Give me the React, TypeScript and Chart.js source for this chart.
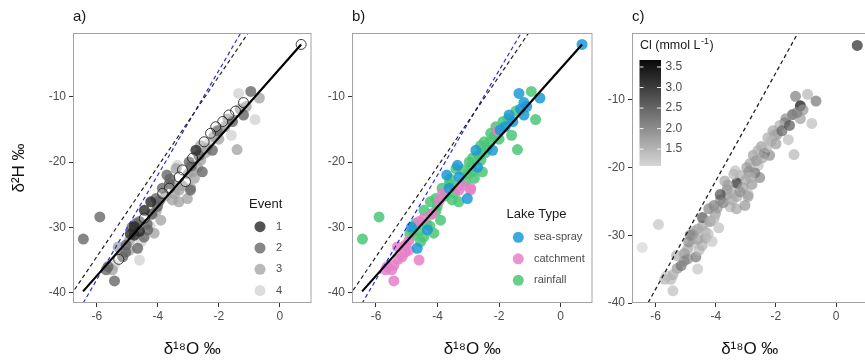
import React, { useEffect, useRef } from "react";
import { Chart, registerables } from "chart.js";

Chart.register(...registerables);

// ---------------- data ----------------
const d18O = [
  0.7, -1.35, -0.95, -0.67, -1.19, -1.1, -1.45, -1.19, -0.81, -1.67,
  -1.7, -1.87, -1.59, -1.4, -2.1, -1.96, -2.05, -2.27, -2.16, -2.48,
  -2.38, -2.21, -2.75, -2.6, -2.86, -2.59, -2.97, -2.54, -2.7, -3.19,
  -3.35, -3.3, -3.62, -3.62, -2.92, -3.3, -3.84, -3.09, -3.52, -2.8,
  -2.9,
  -5.9, -6.44, -5.42, -5.49, -5.63, -5.28, -4.6, -4.66, -5.04, -4.93,
  -4.77, -4.44, -4.71, -4.33, -4.12, -4.44, -4.17, -4.01, -3.52, -3.31,
  -3.03, -2.93, -3.85, -4.06, -4.23, -3.9, -4.55, -4.93, -5.15, -5.42,
  -5.69, -4.6, -4.77, -4.9, -4.85, -4.35, -3.7, -3.4,
  -4.2, -4.05, -3.95, -3.75, -3.45, -3.2, -2.85, -2.65, -2.45, -2.3,
  -2.0, -1.8, -1.55, -1.3, -4.45, -4.6, -4.25, -5.05, -5.3, -3.6,
  -3.0,
];
const d2H = [
  -2.0, -9.5, -9.2, -10.2, -10.9, -11.5, -12.2, -12.8, -13.5, -12.8,
  -13.4, -13.8, -15.9, -18.1, -14.6, -15.1, -15.2, -15.6, -16.1, -16.9,
  -17.9, -18.2, -18.2, -17.5, -19.4, -19.7, -20.0, -21.5, -20.8, -21.2,
  -20.5, -22.3, -23.3, -24.0, -24.0, -24.3, -24.8, -23.0, -23.5, -22.5,
  -20.6,
  -28.4, -31.8, -38.2, -36.5, -36.0, -34.9, -35.0, -33.2, -32.7, -32.0,
  -31.2, -28.6, -29.4, -30.4, -30.9, -27.4, -27.9, -26.8, -25.8, -26.1,
  -25.6, -24.3, -24.0, -25.6, -26.1, -28.9, -32.2, -33.5, -34.5, -35.8,
  -36.5, -29.1, -29.9, -31.0, -30.0, -29.5, -22.0, -21.0,
  -28.0, -27.5, -26.0, -25.2, -24.8, -23.6, -21.5, -19.0, -18.6, -17.0,
  -16.5, -14.6, -13.8, -11.9, -31.5, -30.6, -29.8, -33.8, -33.0, -22.6,
  -21.8,
];
// 0 = open circle (not in legend), 1..4 = event
const eventGroup = [
  0, 4, 2, 3, 0, 3, 0, 2, 4, 0,
  3, 0, 4, 3, 0, 3, 2, 0, 3, 0,
  3, 2, 1, 3, 0, 3, 2, 2, 3, 0,
  4, 0, 2, 0, 3, 3, 0, 0, 3, 3,
  2,
  2, 2, 2, 3, 2, 0, 4, 2, 2, 3,
  1, 0, 2, 2, 3, 1, 3, 2, 3, 3,
  3, 2, 2, 2, 1, 3, 4, 3, 2, 4,
  2, 2, 1, 1, 2, 2, 2, 3,
  2, 3, 2, 3, 3, 3, 3, 2, 3, 4,
  3, 3, 2, 3, 2, 1, 4, 2, 3, 2,
  3,
];
// index into lakeLabels
const lakeType = [
  0, 0, 2, 0, 0, 0, 2, 0, 2, 0,
  2, 2, 2, 2, 2, 0, 1, 2, 2, 2,
  2, 0, 0, 2, 2, 2, 2, 2, 0, 2,
  0, 0, 2, 0, 1, 1, 1, 2, 2, 2,
  2,
  2, 2, 1, 1, 1, 1, 1, 0, 1, 1,
  2, 1, 2, 0, 2, 2, 1, 2, 2, 2,
  0, 1, 2, 2, 2, 2, 2, 1, 1, 1,
  1, 1, 2, 2, 0, 2, 0, 2,
  2, 2, 1, 2, 2, 1, 2, 2, 2, 2,
  2, 0, 0, 0, 2, 2, 2, 1, 1, 2,
  2,
];
const chloride = [
  3.3, 2.2, 1.5, 2.3, 3.67, 1.9, 2.6, 1.8, 1.4, 2.0,
  2.2, 1.6, 1.4, 1.5, 1.7, 1.9, 1.7, 1.6, 1.5, 1.8,
  3.0, 2.0, 1.8, 1.6, 1.7, 1.4, 1.8, 2.1, 2.3, 1.6,
  1.4, 3.3, 2.1, 1.9, 1.5, 1.7, 2.0, 1.8, 1.6, 1.9,
  2.0,
  1.3, 1.09, 1.4, 1.5, 1.3, 1.9, 1.3, 2.3, 2.0, 1.7,
  1.4, 1.7, 1.6, 1.9, 1.3, 2.7, 1.7, 1.8, 1.5, 1.7,
  1.9, 1.8, 2.8, 2.2, 2.1, 1.4, 1.5, 2.0, 2.3, 1.6,
  1.5, 1.7, 1.9, 2.0, 2.1, 1.6, 1.7, 1.5,
  1.7, 1.5, 1.9, 2.1, 1.7, 2.0, 1.6, 1.9, 1.7, 1.5,
  1.8, 2.5, 2.7, 2.2, 1.6, 1.8, 1.4, 2.1, 1.6, 1.8,
  1.7,
];

const eventLabels = ["1", "2", "3", "4"];
const lakeLabels = ["sea-spray", "catchment", "rainfall"];
const xTicks = [-6, -4, -2, 0];
const yTicks = [-40, -30, -20, -10];
const clTicks = [1.5, 2.0, 2.5, 3.0, 3.5];

// reference lines: [slope, intercept]
const gmwl = [8, 10];
const lmwl = [6.9, 6.9];
const regression = [5.287, -5.7];
const regressionRange = [-6.45, 0.7];

// ---------------- styles ----------------
const FONT = "'Liberation Sans', Arial, Helvetica, sans-serif";
const eventColors = [
  "rgba(40,40,40,0.8)",
  "rgba(100,100,100,0.78)",
  "rgba(160,160,160,0.75)",
  "rgba(208,208,208,0.75)",
];
const lakeColors = [
  "rgba(27,154,214,0.85)",
  "rgba(230,128,200,0.85)",
  "rgba(76,199,120,0.85)",
];
const clMin = Math.min(...chloride);
const clMax = Math.max(...chloride);
function clGrey(v: number) {
  const t = Math.max(0, Math.min(1, (v - clMin) / (clMax - clMin)));
  return Math.round(214 - t * (214 - 8));
}

function linePts(coef: number[], x0: number, x1: number) {
  return [
    { x: x0, y: coef[0] * x0 + coef[1] },
    { x: x1, y: coef[0] * x1 + coef[1] },
  ];
}

function pts(filter: (i: number) => boolean) {
  const out: { x: number; y: number }[] = [];
  d18O.forEach((x, i) => {
    if (filter(i)) out.push({ x, y: d2H[i] });
  });
  return out;
}

function lineDs(data: any, color: string, width: number, dash: number[]) {
  return {
    type: "line",
    data,
    borderColor: color,
    borderWidth: width,
    borderDash: dash,
    pointRadius: 0,
    showLine: true,
    fill: false,
    tension: 0,
  };
}

function scatterDs(data: any, bg: any, extra: any = {}) {
  return {
    type: "scatter",
    data,
    backgroundColor: bg,
    borderColor: bg,
    borderWidth: 0,
    pointRadius: 5.5,
    pointHoverRadius: 5.5,
    ...extra,
  };
}

type Spec = {
  label: string;
  padTop: number;
  padRight: number;
  yAxisW: number;
  xAxisH: number;
  ymin: number;
  ymax: number;
  yTitle: boolean;
  datasets: any[];
  legend?: (ctx: CanvasRenderingContext2D) => void;
};

function buildChart(canvas: HTMLCanvasElement, spec: Spec) {
  const decor = {
    id: "decor" + spec.label,
    afterDraw(chart: any) {
      const { ctx, chartArea: a } = chart;
      ctx.save();
      ctx.strokeStyle = "#a3a3a3";
      ctx.lineWidth = 1;
      ctx.strokeRect(a.left + 0.5, a.top + 0.5, a.right - a.left - 1, a.bottom - a.top - 1);
      ctx.fillStyle = "#1a1a1a";
      ctx.font = `15px ${FONT}`;
      ctx.textBaseline = "middle";
      ctx.textAlign = "left";
      ctx.fillText(spec.label, a.left, 17);
      if (spec.legend) spec.legend(ctx);
      ctx.restore();
    },
  };
  return new Chart(canvas, {
    type: "scatter",
    data: { datasets: spec.datasets },
    plugins: [decor],
    options: {
      animation: false,
      responsive: false,
      events: [],
      layout: { padding: { top: spec.padTop, right: spec.padRight, left: 0, bottom: 0 } },
      plugins: {
        legend: { display: false },
        tooltip: { enabled: false },
        title: { display: false },
      },
      scales: {
        x: {
          type: "linear",
          min: -6.78,
          max: 1.04,
          afterBuildTicks: (s: any) => {
            s.ticks = xTicks.map((v) => ({ value: v }));
          },
          afterFit: (s: any) => {
            s.height = spec.xAxisH;
          },
          grid: {
            display: true,
            drawOnChartArea: false,
            drawTicks: true,
            tickLength: 4,
            color: "#333333",
            tickColor: "#333333",
          },
          border: { display: false },
          ticks: {
            font: { family: FONT, size: 12 },
            color: "#4d4d4d",
            padding: 2,
            maxRotation: 0,
            autoSkip: false,
          },
          title: {
            display: true,
            text: "δ¹⁸O ‰",
            font: { family: FONT, size: 17 },
            color: "#111111",
            padding: { top: 0, bottom: 0 },
          },
        },
        y: {
          type: "linear",
          min: spec.ymin,
          max: spec.ymax,
          afterBuildTicks: (s: any) => {
            s.ticks = yTicks.map((v) => ({ value: v }));
          },
          afterFit: (s: any) => {
            s.width = spec.yAxisW;
          },
          grid: {
            display: true,
            drawOnChartArea: false,
            drawTicks: true,
            tickLength: 4,
            color: "#333333",
            tickColor: "#333333",
          },
          border: { display: false },
          ticks: {
            font: { family: FONT, size: 12 },
            color: "#4d4d4d",
            padding: 3,
            autoSkip: false,
          },
          title: {
            display: spec.yTitle,
            text: "δ²H ‰",
            font: { family: FONT, size: 17 },
            color: "#111111",
            padding: { top: 9, bottom: 0 },
          },
        },
      },
    } as any,
  });
}

function eventLegend(ctx: CanvasRenderingContext2D) {
  ctx.textAlign = "left";
  ctx.textBaseline = "middle";
  ctx.font = `13px ${FONT}`;
  ctx.fillStyle = "#1a1a1a";
  ctx.fillText("Event", 249, 204);
  eventLabels.forEach((lab, i) => {
    const y = 226.7 + i * 21.3;
    ctx.beginPath();
    ctx.arc(260, y, 5.5, 0, Math.PI * 2);
    ctx.fillStyle = eventColors[i];
    ctx.fill();
    ctx.font = `11px ${FONT}`;
    ctx.fillStyle = "#4d4d4d";
    ctx.fillText(lab, 276, y);
  });
}

function lakeLegend(ctx: CanvasRenderingContext2D) {
  ctx.textAlign = "left";
  ctx.textBaseline = "middle";
  ctx.font = `13px ${FONT}`;
  ctx.fillStyle = "#1a1a1a";
  ctx.fillText("Lake Type", 188.5, 214.5);
  lakeLabels.forEach((lab, i) => {
    const y = 237.3 + i * 21.5;
    ctx.beginPath();
    ctx.arc(200.3, y, 5.5, 0, Math.PI * 2);
    ctx.fillStyle = lakeColors[i];
    ctx.fill();
    ctx.font = `11px ${FONT}`;
    ctx.fillStyle = "#4d4d4d";
    ctx.fillText(lab, 216, y);
  });
}

function clLegend(ctx: CanvasRenderingContext2D) {
  const x0 = 41.5;
  const x1 = 63;
  const yTop = 60;
  const yBot = 166;
  ctx.textAlign = "left";
  ctx.textBaseline = "middle";
  ctx.fillStyle = "#1a1a1a";
  ctx.font = `12.5px ${FONT}`;
  const t1 = "Cl (mmol L";
  ctx.fillText(t1, 42, 46);
  let x = 42 + ctx.measureText(t1).width + 0.5;
  ctx.font = `9px ${FONT}`;
  ctx.fillText("-1", x, 41.5);
  x += ctx.measureText("-1").width + 0.5;
  ctx.font = `12.5px ${FONT}`;
  ctx.fillText(")", x, 46);

  const g = ctx.createLinearGradient(0, yTop, 0, yBot);
  const hi = clGrey(clMax);
  const lo = clGrey(clMin);
  g.addColorStop(0, `rgb(${hi},${hi},${hi})`);
  g.addColorStop(1, `rgb(${lo},${lo},${lo})`);
  ctx.fillStyle = g;
  ctx.fillRect(x0, yTop, x1 - x0, yBot - yTop);

  ctx.font = `12px ${FONT}`;
  clTicks.forEach((v) => {
    const y = yBot - ((v - clMin) / (clMax - clMin)) * (yBot - yTop);
    ctx.strokeStyle = "rgba(255,255,255,0.9)";
    ctx.lineWidth = 1;
    ctx.beginPath();
    ctx.moveTo(x0, y);
    ctx.lineTo(x0 + 4, y);
    ctx.moveTo(x1 - 4, y);
    ctx.lineTo(x1, y);
    ctx.stroke();
    ctx.fillStyle = "#4d4d4d";
    ctx.fillText(v.toFixed(1), 67.5, y);
  });
}

export default function App() {
  const ra = useRef<HTMLCanvasElement>(null);
  const rb = useRef<HTMLCanvasElement>(null);
  const rc = useRef<HTMLCanvasElement>(null);

  useEffect(() => {
    const wide = [-12, 6];
    const mwlLines = () => [
      lineDs(linePts(regression, regressionRange[0], regressionRange[1]), "#000000", 2.2, []),
      lineDs(linePts(lmwl, wide[0], wide[1]), "#222222", 1.2, [4, 3]),
      lineDs(linePts(gmwl, wide[0], wide[1]), "#2b2be6", 1.2, [4, 3]),
    ];

    const chartA = buildChart(ra.current!, {
      label: "a)",
      padTop: 33,
      padRight: 4,
      yAxisW: 73,
      xAxisH: 57,
      ymin: -41.58,
      ymax: -0.25,
      yTitle: true,
      datasets: [
        ...mwlLines(),
        scatterDs(pts((i) => eventGroup[i] === 0), "rgba(255,255,255,0.15)", {
          borderColor: "rgba(30,30,30,0.85)",
          borderWidth: 1,
          pointRadius: 5,
        }),
        ...[1, 2, 3, 4].map((e) => scatterDs(pts((i) => eventGroup[i] === e), eventColors[e - 1])),
      ],
      legend: eventLegend,
    });

    const chartB = buildChart(rb.current!, {
      label: "b)",
      padTop: 33,
      padRight: 5,
      yAxisW: 34,
      xAxisH: 57,
      ymin: -41.58,
      ymax: -0.25,
      yTitle: false,
      datasets: [
        ...mwlLines(),
        ...[0, 1, 2].map((k) => scatterDs(pts((i) => lakeType[i] === k), lakeColors[k])),
      ],
      legend: lakeLegend,
    });

    const chartC = buildChart(rc.current!, {
      label: "c)",
      padTop: 33,
      padRight: 0,
      yAxisW: 34,
      xAxisH: 57,
      ymin: -40,
      ymax: -0.16,
      yTitle: false,
      datasets: [
        lineDs(linePts(gmwl, wide[0], wide[1]), "#222222", 1.3, [4, 3]),
        scatterDs(
          pts(() => true),
          chloride.map((v) => {
            const g = clGrey(v);
            return `rgba(${g},${g},${g},0.7)`;
          })
        ),
      ],
      legend: clLegend,
    });

    return () => {
      chartA.destroy();
      chartB.destroy();
      chartC.destroy();
    };
  }, []);

  const cs = (left: number, width: number) => ({
    position: "absolute" as const,
    left,
    top: 0,
    width,
    height: 360,
  });

  return (
    <div
      style={{
        position: "fixed",
        left: 0,
        top: 0,
        width: 865,
        height: 360,
        overflow: "hidden",
        background: "#ffffff",
      }}
    >
      <canvas ref={ra} width={318} height={360} style={cs(0, 318)} />
      <canvas ref={rb} width={280} height={360} style={cs(318, 280)} />
      <canvas ref={rc} width={275} height={360} style={cs(598, 275)} />
    </div>
  );
}
